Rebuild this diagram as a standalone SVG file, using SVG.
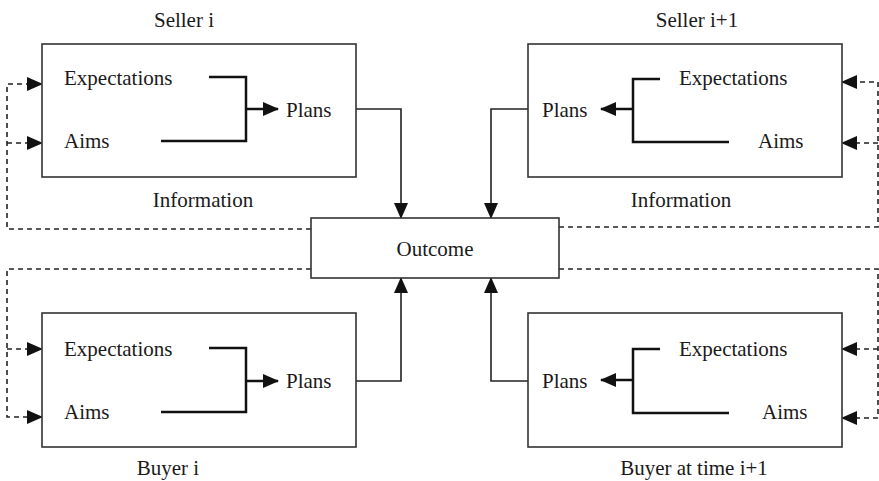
<svg xmlns="http://www.w3.org/2000/svg" width="879" height="481" viewBox="0 0 879 481">
<style>
text{font-family:"Liberation Serif","Times New Roman",serif;font-size:21px;fill:#1a1a1a}
.box{fill:#fff;stroke:#333;stroke-width:1.6}
.br{fill:none;stroke:#111;stroke-width:2.5}
.ln{fill:none;stroke:#222;stroke-width:1.6}
.ds{fill:none;stroke:#222;stroke-width:1.6;stroke-dasharray:5 4}
.c{text-anchor:middle}
</style>
<defs>
<marker id="arr" viewBox="0 0 16 14" refX="15" refY="7" markerWidth="16" markerHeight="14" markerUnits="userSpaceOnUse" orient="auto">
<path d="M0,0 L16,7 L0,14 z" fill="#111" stroke="none"/>
</marker>
</defs>
<g id="connectors">
<path class="ln" d="M347,109 H401 V218" marker-end="url(#arr)"/>
<path class="ln" d="M536,109 H491 V218" marker-end="url(#arr)"/>
<path class="ln" d="M347,381 H401 V278" marker-end="url(#arr)"/>
<path class="ln" d="M536,381 H491 V278" marker-end="url(#arr)"/>
<path class="ds" d="M311,229 H7 V84 H42" marker-end="url(#arr)"/>
<path class="ds" d="M7,143 H42" marker-end="url(#arr)"/>
<path class="ds" d="M559,227 H878 V82 H842" marker-end="url(#arr)"/>
<path class="ds" d="M878,143 H842" marker-end="url(#arr)"/>
<path class="ds" d="M311,269 H7 V417 H42" marker-end="url(#arr)"/>
<path class="ds" d="M7,349 H42" marker-end="url(#arr)"/>
<path class="ds" d="M559,269 H878 V418 H842" marker-end="url(#arr)"/>
<path class="ds" d="M878,349 H842" marker-end="url(#arr)"/>
</g>
<g id="seller-i">
<rect class="box" x="42" y="44" width="314" height="133"/>
<text class="c" x="184" y="27">Seller i</text>
<text x="64" y="85">Expectations</text>
<text x="64" y="148">Aims</text>
<text x="286" y="117">Plans</text>
<path class="br" d="M209,77 H246 V141 H161"/>
<path class="br" d="M246,109 H278" marker-end="url(#arr)"/>
<text class="c" x="203" y="207">Information</text>
</g>
<g id="seller-i1">
<rect class="box" x="528" y="44" width="314" height="133"/>
<text class="c" x="697" y="27">Seller i+1</text>
<text x="679" y="85">Expectations</text>
<text x="758" y="148">Aims</text>
<text x="542" y="117">Plans</text>
<path class="br" d="M660,79 H633 V142 H729"/>
<path class="br" d="M633,109 H601" marker-end="url(#arr)"/>
<text class="c" x="681" y="207">Information</text>
</g>
<g id="outcome">
<rect class="box" x="311" y="218" width="248" height="60"/>
<text class="c" x="435" y="256">Outcome</text>
</g>
<g id="buyer-i">
<rect class="box" x="42" y="313" width="314" height="134"/>
<text x="64" y="356">Expectations</text>
<text x="64" y="419">Aims</text>
<text x="286" y="388">Plans</text>
<path class="br" d="M209,348 H246 V412 H161"/>
<path class="br" d="M246,381 H278" marker-end="url(#arr)"/>
<text class="c" x="168" y="475">Buyer i</text>
</g>
<g id="buyer-i1">
<rect class="box" x="528" y="313" width="314" height="134"/>
<text x="679" y="356">Expectations</text>
<text x="762" y="419">Aims</text>
<text x="542" y="388">Plans</text>
<path class="br" d="M660,349 H633 V413 H729"/>
<path class="br" d="M633,380 H601" marker-end="url(#arr)"/>
<text class="c" x="694" y="475">Buyer at time i+1</text>
</g>
</svg>
